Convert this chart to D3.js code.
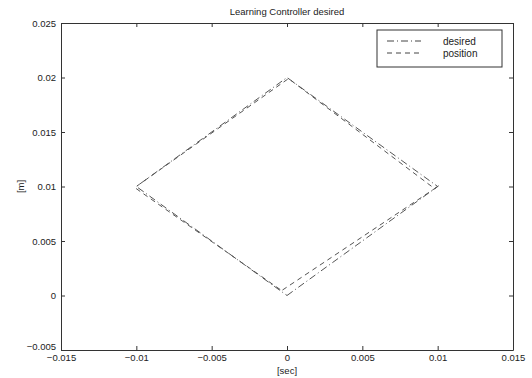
<!DOCTYPE html>
<html>
<head>
<meta charset="utf-8">
<script src="https://cdn.jsdelivr.net/npm/d3@7"></script>
<style>
  body { margin: 0; background: #fff; }
  text { font-family: "Liberation Sans", Arial, sans-serif; fill: #222; }
</style>
</head>
<body>
<div id="chart"></div>
<script>
// Data
const desiredX = [0, 0.01, 0, -0.01, 0]
const desiredY = [0, 0.01, 0.02, 0.01, 0]
const positionX = [-0.0003, 0.0099, 0.0101, 0.0098, 0.0001, -0.0098, -0.0101, -0.0097, -0.0003]
const positionY = [0.0005, 0.0099, 0.0101, 0.0098, 0.0199, 0.0102, 0.0099, 0.0095, 0.0004]
const xTicks = [-0.015, -0.01, -0.005, 0, 0.005, 0.01, 0.015]
const yTicks = [-0.005, 0, 0.005, 0.01, 0.015, 0.02, 0.025]
const legendNames = ['desired', 'position']

// Dimensions
let dimensions = {
  width: 532,
  height: 378,
  left: 61,
  right: 513,
  top: 23,
  bottom: 350,
}

const svg = d3.select('#chart')
  .append('svg')
  .attr('width', dimensions.width)
  .attr('height', dimensions.height)

// scales
const x = d3.scaleLinear()
  .domain([-0.015, 0.015])
  .range([dimensions.left, dimensions.right])

const y = d3.scaleLinear()
  .domain([-0.005, 0.025])
  .range([dimensions.bottom, dimensions.top])

const fmt = d => d === 0 ? '0' : d3.format('')(+d.toFixed(3))

// axes (matlab style: ticks inside, box on)
svg.append('g')
  .attr('transform', `translate(0, ${dimensions.bottom})`)
  .call(d3.axisBottom(x).tickValues(xTicks).tickSizeInner(-4).tickSizeOuter(0).tickPadding(4).tickFormat(fmt))
svg.append('g')
  .attr('transform', `translate(0, ${dimensions.top})`)
  .call(d3.axisTop(x).tickValues(xTicks).tickSizeInner(-4).tickSizeOuter(0).tickFormat(''))
const yAxis = svg.append('g')
  .attr('transform', `translate(${dimensions.left}, 0)`)
  .call(d3.axisLeft(y).tickValues(yTicks).tickSizeInner(-4).tickSizeOuter(0).tickPadding(5).tickFormat(fmt))
svg.append('g')
  .attr('transform', `translate(${dimensions.right}, 0)`)
  .call(d3.axisRight(y).tickValues(yTicks).tickSizeInner(-4).tickSizeOuter(0).tickFormat(''))

// bottom y label sits a bit higher, like the original
yAxis.selectAll('.tick text')
  .filter(d => d === -0.005)
  .attr('dy', '-0.05em')

svg.selectAll('.domain, .tick line').attr('stroke', '#333')
svg.selectAll('.tick text')
  .attr('font-size', 9.5)
  .attr('font-family', '"Liberation Sans", Arial, sans-serif')
  .attr('fill', '#222')

// lines
const line = d3.line()
  .x(d => x(d[0]))
  .y(d => y(d[1]))

const desired = desiredX.map((d, i) => [d, desiredY[i]])
const position = positionX.map((d, i) => [d, positionY[i]])

svg.append('path')
  .datum(desired)
  .attr('d', line)
  .attr('fill', 'none')
  .attr('stroke', '#555')
  .attr('stroke-width', 1)
  .attr('stroke-dasharray', '7,3,1,3')

svg.append('path')
  .datum(position)
  .attr('d', line)
  .attr('fill', 'none')
  .attr('stroke', '#555')
  .attr('stroke-width', 1)
  .attr('stroke-dasharray', '5,4')

// titles
svg.append('text')
  .attr('x', (dimensions.left + dimensions.right) / 2)
  .attr('y', 15)
  .attr('text-anchor', 'middle')
  .attr('font-size', 9.5)
  .text('Learning Controller desired')

svg.append('text')
  .attr('x', (dimensions.left + dimensions.right) / 2)
  .attr('y', 374)
  .attr('text-anchor', 'middle')
  .attr('font-size', 9.5)
  .text('[sec]')

svg.append('text')
  .attr('transform', `translate(24, ${y(0.01)}) rotate(-90)`)
  .attr('text-anchor', 'middle')
  .attr('font-size', 9.5)
  .text('[m]')

// legend
const legend = svg.append('g')
  .attr('transform', 'translate(377, 30)')

legend.append('rect')
  .attr('width', 125)
  .attr('height', 37)
  .attr('fill', '#fff')
  .attr('stroke', '#333')

const dashes = ['7,3,1,3', '5,4']
legend.selectAll('.entry')
  .data(legendNames)
  .join('g')
  .attr('transform', (d, i) => `translate(0, ${11 + i * 12})`)
  .each(function(d, i) {
    const g = d3.select(this)
    g.append('line')
      .attr('x1', 10).attr('x2', 44)
      .attr('stroke', '#444')
      .attr('stroke-dasharray', dashes[i])
    g.append('text')
      .attr('x', 66)
      .attr('y', 3.5)
      .attr('font-size', 10)
      .text(d)
  })
</script>
</body>
</html>
